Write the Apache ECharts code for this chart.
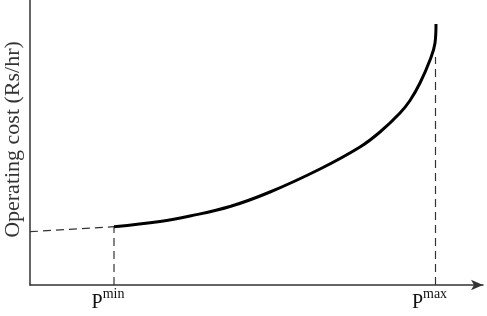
<!DOCTYPE html>
<html>
<head>
<meta charset="utf-8">
<script src="https://cdn.jsdelivr.net/npm/echarts@6/dist/echarts.min.js"></script>
<style>
  html, body { margin: 0; padding: 0; background: #fff; }
  #main { width: 487px; height: 316px; }
</style>
</head>
<body>
<div id="main"></div>
<script>
// power output (x) vs operating cost (y), arbitrary units
var curveX = [84, 130, 160, 200, 240, 290, 330, 350, 370, 380, 390, 400, 405, 406];
var curveY = [58.3, 63.5, 69, 78.5, 93, 116, 138, 153, 172, 184.5, 202, 225, 242, 261];
var pMin = 84;
var pMax = 405.5;
var costAtZero = 53.3;
var pMaxDashTop = 228;
var tickValues = [84, 405.5];
var tickLabels = ['min', 'max'];

var chart = echarts.init(document.getElementById('main'));

var curveData = curveX.map(function (x, i) { return [x, curveY[i]]; });

var serif = "'Liberation Serif', 'Times New Roman', serif";
var dashStyle = { color: '#333', width: 1.2, type: [8, 5] };

var option = {
  backgroundColor: '#fff',
  animation: false,
  grid: { left: 30, right: 4, top: 0, bottom: 31, outerBoundsMode: 'none', containLabel: false },
  xAxis: {
    type: 'value',
    min: 0,
    max: 453,
    splitLine: { show: false },
    axisTick: { show: false },
    axisLine: {
      lineStyle: { color: '#333', width: 1.5 },
      symbol: ['none', 'arrow'],
      symbolSize: [8, 12]
    },
    axisLabel: {
      customValues: tickValues,
      margin: 7,
      formatter: function (v) {
        var i = tickValues.indexOf(v);
        return '{p|P}{s|' + tickLabels[i] + '}';
      },
      rich: {
        p: { fontFamily: serif, fontSize: 20, lineHeight: 22, color: '#111' },
        s: { fontFamily: serif, fontSize: 14, lineHeight: 14, color: '#111', padding: [0, 12, 18, 0] }
      }
    }
  },
  yAxis: {
    type: 'value',
    min: 0,
    max: 285,
    splitLine: { show: false },
    axisTick: { show: false },
    axisLabel: { show: false },
    axisLine: { lineStyle: { color: '#333', width: 1.5 } },
    name: 'Operating cost (Rs/hr)',
    nameLocation: 'middle',
    nameRotate: 90,
    nameGap: 6,
    nameTextStyle: { fontFamily: serif, fontSize: 22, color: '#333', padding: [0, 0, 0, 6] }
  },
  series: [
    {
      type: 'line',
      data: [[0, costAtZero], [pMin, curveY[0]]],
      showSymbol: false,
      lineStyle: dashStyle
    },
    {
      type: 'line',
      data: [[pMin, 0], [pMin, curveY[0]]],
      showSymbol: false,
      lineStyle: dashStyle
    },
    {
      type: 'line',
      data: [[pMax, 0], [pMax, pMaxDashTop]],
      showSymbol: false,
      lineStyle: dashStyle
    },
    {
      type: 'line',
      data: curveData,
      smooth: 0.4,
      showSymbol: false,
      lineStyle: { color: '#000', width: 3 }
    }
  ]
};

chart.setOption(option);
</script>
</body>
</html>
